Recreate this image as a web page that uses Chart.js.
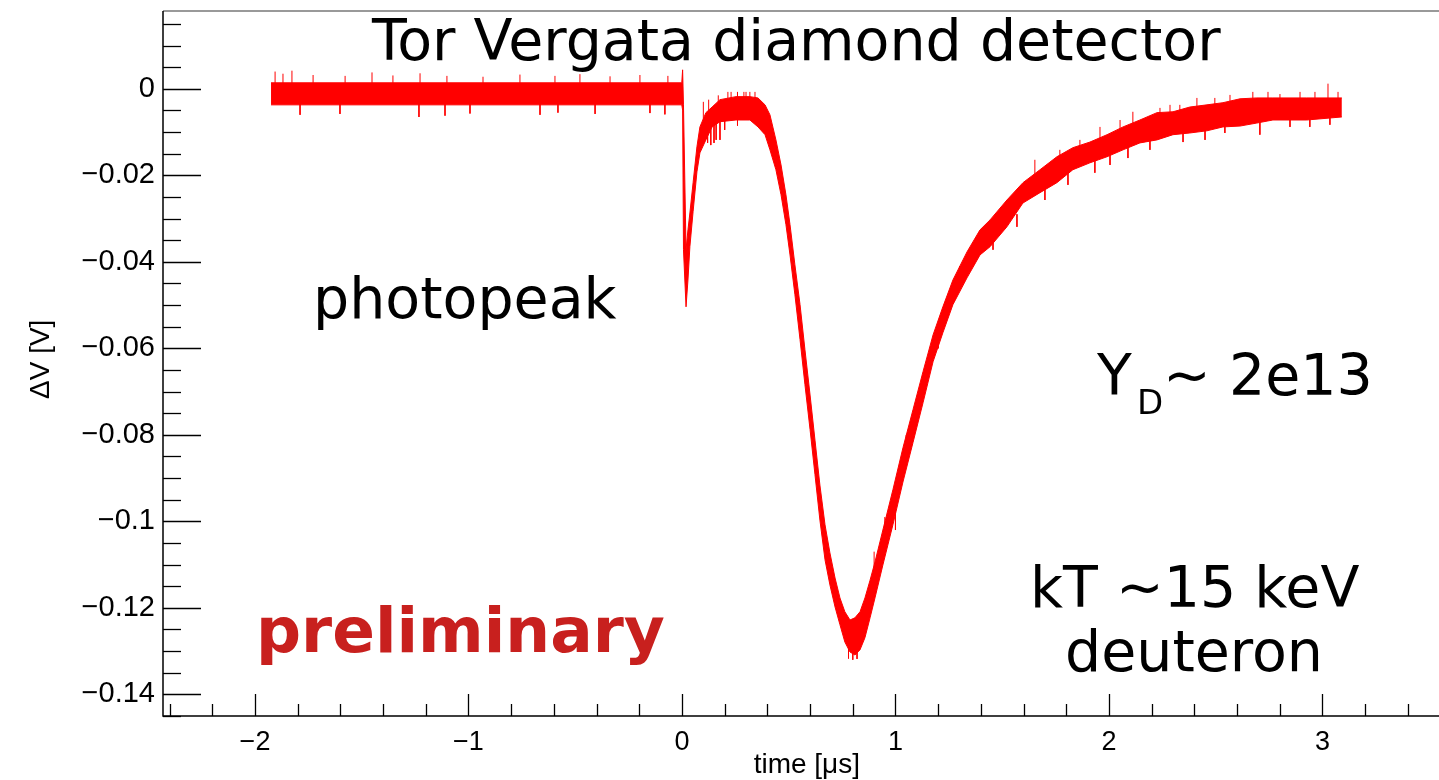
<!DOCTYPE html>
<html><head><meta charset="utf-8">
<script src="https://cdn.jsdelivr.net/npm/chart.js@4.4.1/dist/chart.umd.min.js"></script>
<style>html,body{margin:0;padding:0;background:#fff;overflow:hidden}#wrap{width:1439px;height:780px}</style>
</head><body><div id="wrap"><canvas id="c" width="1439" height="780"></canvas></div>
<script>
// waveform envelope (time in us, upper / lower edge of the noisy trace in V)
const timeUs = [-1.925,-0.001,0.003,0.007,0.019,0.028,0.037,0.052,0.070,0.084,0.112,0.141,0.178,0.253,0.318,0.356,0.389,0.412,0.440,0.464,0.487,0.506,0.529,0.553,0.576,0.600,0.623,0.646,0.670,0.693,0.717,0.740,0.763,0.787,0.810,0.834,0.857,0.881,0.904,0.941,0.988,1.035,1.082,1.129,1.176,1.222,1.269,1.335,1.396,1.443,1.522,1.597,1.677,1.756,1.831,1.911,1.991,2.066,2.145,2.225,2.300,2.379,2.459,2.534,2.614,2.693,2.768,2.927,3.091];
const upperV = [0.0014,0.0014,0.0044,-0.0037,-0.0372,-0.0326,-0.0287,-0.0217,-0.0134,-0.0088,-0.0055,-0.0042,-0.0025,-0.0018,-0.0018,-0.0021,-0.0037,-0.0060,-0.0118,-0.0176,-0.0245,-0.0314,-0.0407,-0.0499,-0.0603,-0.0708,-0.0812,-0.0916,-0.1008,-0.1073,-0.1131,-0.1177,-0.1209,-0.1228,-0.1223,-0.1209,-0.1177,-0.1136,-0.1094,-0.1020,-0.0927,-0.0830,-0.0742,-0.0654,-0.0569,-0.0504,-0.0442,-0.0377,-0.0326,-0.0303,-0.0257,-0.0217,-0.0187,-0.0157,-0.0136,-0.0123,-0.0106,-0.0088,-0.0072,-0.0055,-0.0053,-0.0042,-0.0037,-0.0032,-0.0023,-0.0021,-0.0021,-0.0021,-0.0021];
const lowerV = [-0.0037,-0.0037,-0.0049,-0.0372,-0.0504,-0.0442,-0.0365,-0.0284,-0.0192,-0.0148,-0.0118,-0.0088,-0.0076,-0.0072,-0.0072,-0.0088,-0.0106,-0.0141,-0.0187,-0.0245,-0.0314,-0.0384,-0.0476,-0.0580,-0.0684,-0.0788,-0.0892,-0.0997,-0.1089,-0.1147,-0.1198,-0.1239,-0.1279,-0.1302,-0.1309,-0.1297,-0.1269,-0.1223,-0.1177,-0.1101,-0.1008,-0.0909,-0.0818,-0.0726,-0.0631,-0.0564,-0.0499,-0.0437,-0.0384,-0.0365,-0.0319,-0.0264,-0.0240,-0.0217,-0.0187,-0.0171,-0.0157,-0.0141,-0.0125,-0.0118,-0.0106,-0.0102,-0.0097,-0.0088,-0.0086,-0.0079,-0.0072,-0.0072,-0.0065];
// isolated noise spikes (time, from, to) in V
const spikeT    = [-1.906,-1.869,-1.827,-1.728,-1.578,-1.452,-1.354,-1.227,-1.101,-0.932,-0.759,-0.595,-0.478,-0.337,-0.197,-0.066,-1.789,-1.602,-1.232,-1.110,-0.993,-0.665,-0.581,-0.407,-0.150,-0.080,0.215,0.230,0.290,0.318,0.342,0.150,0.178,2.112,2.286,2.412,2.674,2.745,2.801,3.026,3.073,1.457,1.569,1.700,1.808,2.192,2.347,2.707,2.848,
                   1.958,2.052,2.239,2.332,2.496,2.567,2.895,2.965,1.653,1.770,1.864,2.005,2.089,2.450,2.543,2.941,3.035,1.934,
                   0.120,0.135,0.160,0.200,0.260,0.100,0.125,0.170,0.260,0.300,0.780,0.800,0.820,0.900,0.950,1.050,1.150,1.200,1.300,1.000];
const spikeFrom = [-0.001,-0.001,-0.001,-0.001,-0.001,-0.001,-0.001,-0.001,-0.001,-0.001,-0.001,-0.001,-0.001,-0.001,-0.001,-0.001,-0.001,-0.001,-0.001,-0.001,-0.001,-0.001,-0.001,-0.001,-0.001,-0.001,-0.004,-0.004,-0.004,-0.004,-0.004,-0.007,-0.007,-0.010,-0.008,-0.006,-0.005,-0.005,-0.005,-0.004,-0.004,-0.033,-0.029,-0.022,-0.018,-0.010,-0.008,-0.006,-0.005,
                   -0.0140,-0.0117,-0.0085,-0.0078,-0.0066,-0.0058,-0.0046,-0.0046,-0.0220,-0.0184,-0.0157,-0.0130,-0.0112,-0.0068,-0.0060,-0.0046,-0.0045,-0.0145,
                   -0.0080,-0.0070,-0.0060,-0.0050,-0.0045,-0.0080,-0.0060,-0.0040,-0.0040,-0.0040,-0.1270,-0.1270,-0.1270,-0.1130,-0.1060,-0.0870,-0.0680,-0.0550,-0.0410,-0.0960];
const spikeTo   = [0.0040,0.0035,0.0042,0.0032,0.0030,0.0038,0.0031,0.0036,0.0030,0.0028,0.0033,0.0030,0.0034,0.0029,0.0032,0.0030,-0.0060,-0.0058,-0.0065,-0.0062,-0.0057,-0.0060,-0.0055,-0.0058,-0.0056,-0.0059,-0.0007,-0.0007,-0.0007,-0.0007,-0.0007,-0.0125,-0.0118,-0.0053,-0.0037,-0.0021,-0.0007,-0.0007,-0.0012,0.0012,-0.0007,-0.0372,-0.0319,-0.0257,-0.0222,-0.0141,-0.0123,-0.0106,-0.0088,
                   -0.0088,-0.0072,-0.0044,-0.0037,-0.0021,-0.0014,-0.0007,-0.0007,-0.0164,-0.0141,-0.0118,-0.0176,-0.0160,-0.0118,-0.0102,-0.0088,-0.0083,-0.0194,
                   -0.0125,-0.0130,-0.0118,-0.0095,-0.0085,-0.0030,-0.0025,-0.0015,-0.0007,-0.0007,-0.1317,-0.1320,-0.1318,-0.1070,-0.0990,-0.0800,-0.0620,-0.0600,-0.0460,-0.1020];
// axes
const xRange = [-2.431, 3.546];
const yRange = [-0.145, 0.018];
const xTickValues = [-2,-1,0,1,2,3];
const xTickLabels = ["\u22122","\u22121","0","1","2","3"];
const yTickValues = [0,-0.02,-0.04,-0.06,-0.08,-0.1,-0.12,-0.14];
const yTickLabels = ["0","\u22120.02","\u22120.04","\u22120.06","\u22120.08","\u22120.1","\u22120.12","\u22120.14"];

const upperPts = timeUs.map((t,i)=>({x:t,y:upperV[i]}));
const lowerPts = timeUs.map((t,i)=>({x:t,y:lowerV[i]}));
const spikePts = [];
spikeT.forEach((t,i)=>{spikePts.push({x:t,y:spikeFrom[i]},{x:t,y:spikeTo[i]},{x:t,y:null});});

const RED = '#ff0000';
const decor = {
  id:'decor',
  afterDraw(chart){
    const {ctx, chartArea:a, scales:{x,y}} = chart;
    ctx.save();
    ctx.lineWidth = 1.5;
    ctx.strokeStyle = '#777';
    ctx.beginPath(); ctx.moveTo(a.left, a.top); ctx.lineTo(a.right, a.top); ctx.stroke();
    ctx.strokeStyle = '#000';
    ctx.beginPath(); ctx.moveTo(a.left, a.top); ctx.lineTo(a.left, a.bottom); ctx.lineTo(a.right, a.bottom); ctx.stroke();
    ctx.lineWidth = 1.3;
    for(let i=-29;i<=3;i++){
      const py = Math.round(y.getPixelForValue(i*0.005))+0.5;
      const len = (i%4===0)?38:18;
      ctx.beginPath(); ctx.moveTo(a.left, py); ctx.lineTo(a.left+len, py); ctx.stroke();
    }
    for(let i=-12;i<=17;i++){
      const px = Math.round(x.getPixelForValue(i*0.2))+0.5;
      const len = (i%5===0)?22:12;
      ctx.beginPath(); ctx.moveTo(px, a.bottom); ctx.lineTo(px, a.bottom-len); ctx.stroke();
    }
    ctx.fillStyle = '#000';
    ctx.font = '28px "Liberation Sans", Arial, sans-serif';
    ctx.textAlign = 'right'; ctx.textBaseline = 'alphabetic';
    ctx.fillText('time [\u03bcs]', 860, 773);
    ctx.save();
    ctx.translate(49, 399); ctx.rotate(-Math.PI/2);
    ctx.textAlign = 'left';
    ctx.fillText('\u0394V [V]', 0, 0);
    ctx.restore();
    const big = '57px "DejaVu Sans", sans-serif';
    ctx.font = big; ctx.textAlign = 'left';
    ctx.fillText('Tor Vergata diamond detector', 372, 60);
    ctx.fillText('photopeak', 313, 318);
    ctx.fillText('kT ~15 keV', 1030, 607);
    ctx.fillText('deuteron', 1065, 671);
    ctx.fillText('Y', 1097, 395);
    ctx.font = '34px "DejaVu Sans", sans-serif';
    ctx.fillText('D', 1137, 414);
    ctx.font = big;
    ctx.fillText('~ 2e13', 1163, 395);
    ctx.fillStyle = '#c8201e';
    ctx.font = 'bold 63px "DejaVu Sans", sans-serif';
    ctx.fillText('preliminary', 256, 652);
    ctx.restore();
  }
};

new Chart(document.getElementById('c'), {
  type:'line',
  data:{datasets:[
    {data:upperPts, borderColor:RED, backgroundColor:RED, borderWidth:1, pointRadius:0, fill:'+1', tension:0},
    {data:lowerPts, borderColor:RED, backgroundColor:RED, borderWidth:1, pointRadius:0, fill:false, tension:0},
    {data:spikePts, borderColor:RED, borderWidth:1, pointRadius:0, fill:false, spanGaps:false, tension:0}
  ]},
  options:{
    responsive:false, animation:false, devicePixelRatio:1,
    layout:{padding:{top:11,left:0,right:0,bottom:0}},
    plugins:{legend:{display:false}, tooltip:{enabled:false}, title:{display:false}},
    scales:{
      x:{type:'linear', min:xRange[0], max:xRange[1],
        afterBuildTicks:s=>{s.ticks = xTickValues.map(v=>({value:v}));},
        afterFit:s=>{s.height = 64; s.paddingLeft = 0; s.paddingRight = 0;},
        grid:{display:false, drawTicks:false}, border:{display:false},
        ticks:{autoSkip:false, maxRotation:0, padding:10, color:'#000',
          font:{family:'"Liberation Sans", Arial, sans-serif', size:27},
          callback:(v)=>{const i=xTickValues.indexOf(v); return i<0?'':xTickLabels[i];}}},
      y:{type:'linear', min:yRange[0], max:yRange[1],
        afterBuildTicks:s=>{s.ticks = yTickValues.map(v=>({value:v}));},
        afterFit:s=>{s.width = 163; s.paddingTop = 0; s.paddingBottom = 0;},
        grid:{display:false, drawTicks:false}, border:{display:false},
        ticks:{autoSkip:false, padding:8, color:'#000',
          font:{family:'"Liberation Sans", Arial, sans-serif', size:29},
          callback:(v)=>{const i=yTickValues.indexOf(v); return i<0?'':yTickLabels[i];}}}
    }
  },
  plugins:[decor]
});
</script></body></html>
